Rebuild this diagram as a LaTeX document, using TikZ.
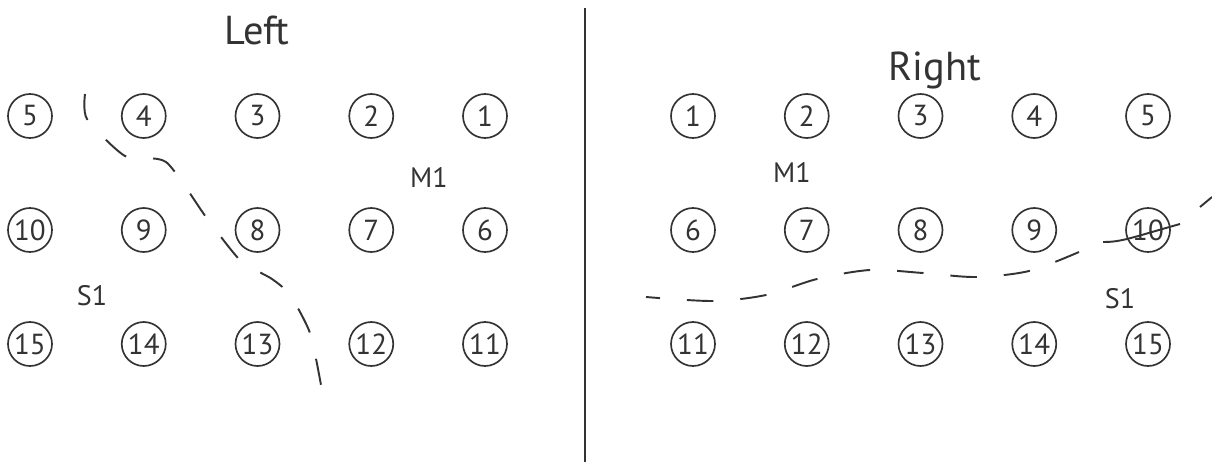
\documentclass[tikz,border=0pt]{standalone}
\usepackage{fontspec}
\setmainfont{PT Sans}
\usepackage{tikz}
\usetikzlibrary{
  positioning
}
\definecolor{ink}{HTML}{333333}
\tikzset{
  numcircle/.style={
    circle,
    draw=ink,
    line width=0.95pt,
    minimum size=0.88cm,
    inner sep=0pt,
    text=ink,
    font=\fontsize{16.5}{19}\selectfont
  },
  marklabel/.style={
    text=ink,
    font=\fontsize{16}{18}\selectfont
  },
  heading/.style={
    text=ink,
    font=\fontsize{23}{26}\selectfont
  },
  divider/.style={
    draw=ink,
    line width=1.1pt
  },
  cutline/.style={
    draw=ink,
    line width=1.1pt,
    dash pattern=on 0.53cm off 0.54cm
  },
  cutsolid/.style={
    draw=ink,
    line width=1.1pt
  }
}

\begin{document}
\begin{tikzpicture}[x=0.02cm, y=-0.02cm]
  \useasboundingbox (0,0) rectangle (1212,470);

  \node[heading] (lefthead) at (257,30) {Left};
  \node[heading] (righthead) at (935,70) {Right};
  \coordinate (divtop) at (585,8);
  \coordinate (divbot) at (585,462);
  \draw[divider] (divtop) -- (divbot);

  % left side, numbered right to left
  \foreach \r in {0,1,2}{
    \foreach \c in {0,...,4}{
      \pgfmathtruncatemacro{\num}{5*\r+5-\c}
      \node[numcircle] (L\num) at ({30+113.75*\c},{116+114*\r}) {\num};
    }
  }
  \node[marklabel] (leftm) at (429,177) {M1};
  \node[marklabel] (lefts) at (92,296) {S1};
  \draw[cutline] plot[smooth, tension=0.4] coordinates {
    (85,94) (87,119) (125,156) (166,162) (206,217)
    (240,260) (272,279) (290,295) (310,333) (321,385)
  };

  % right side, numbered left to right
  \foreach \r in {0,1,2}{
    \foreach \c in {0,...,4}{
      \pgfmathtruncatemacro{\num}{5*\r+\c+1}
      \node[numcircle] (R\num) at ({693+113.75*\c},{116+114*\r}) {\num};
    }
  }
  \node[marklabel] (rightm) at (792,172) {M1};
  \node[marklabel] (rights) at (1120,299) {S1};
  \draw[cutline, dash phase=0.25cm] plot[smooth, tension=0.5] coordinates {
    (646,297) (713,301) (766,295) (817,279) (870,270)
    (923,273) (976,277) (1029,271) (1079,252)
  };
  \draw[cutsolid] (1103,242) .. controls (1122,242) and (1130,238) .. (1180,224);
  \draw[cutsolid] (1200,207) -- (1212,197);
\end{tikzpicture}
\end{document}
